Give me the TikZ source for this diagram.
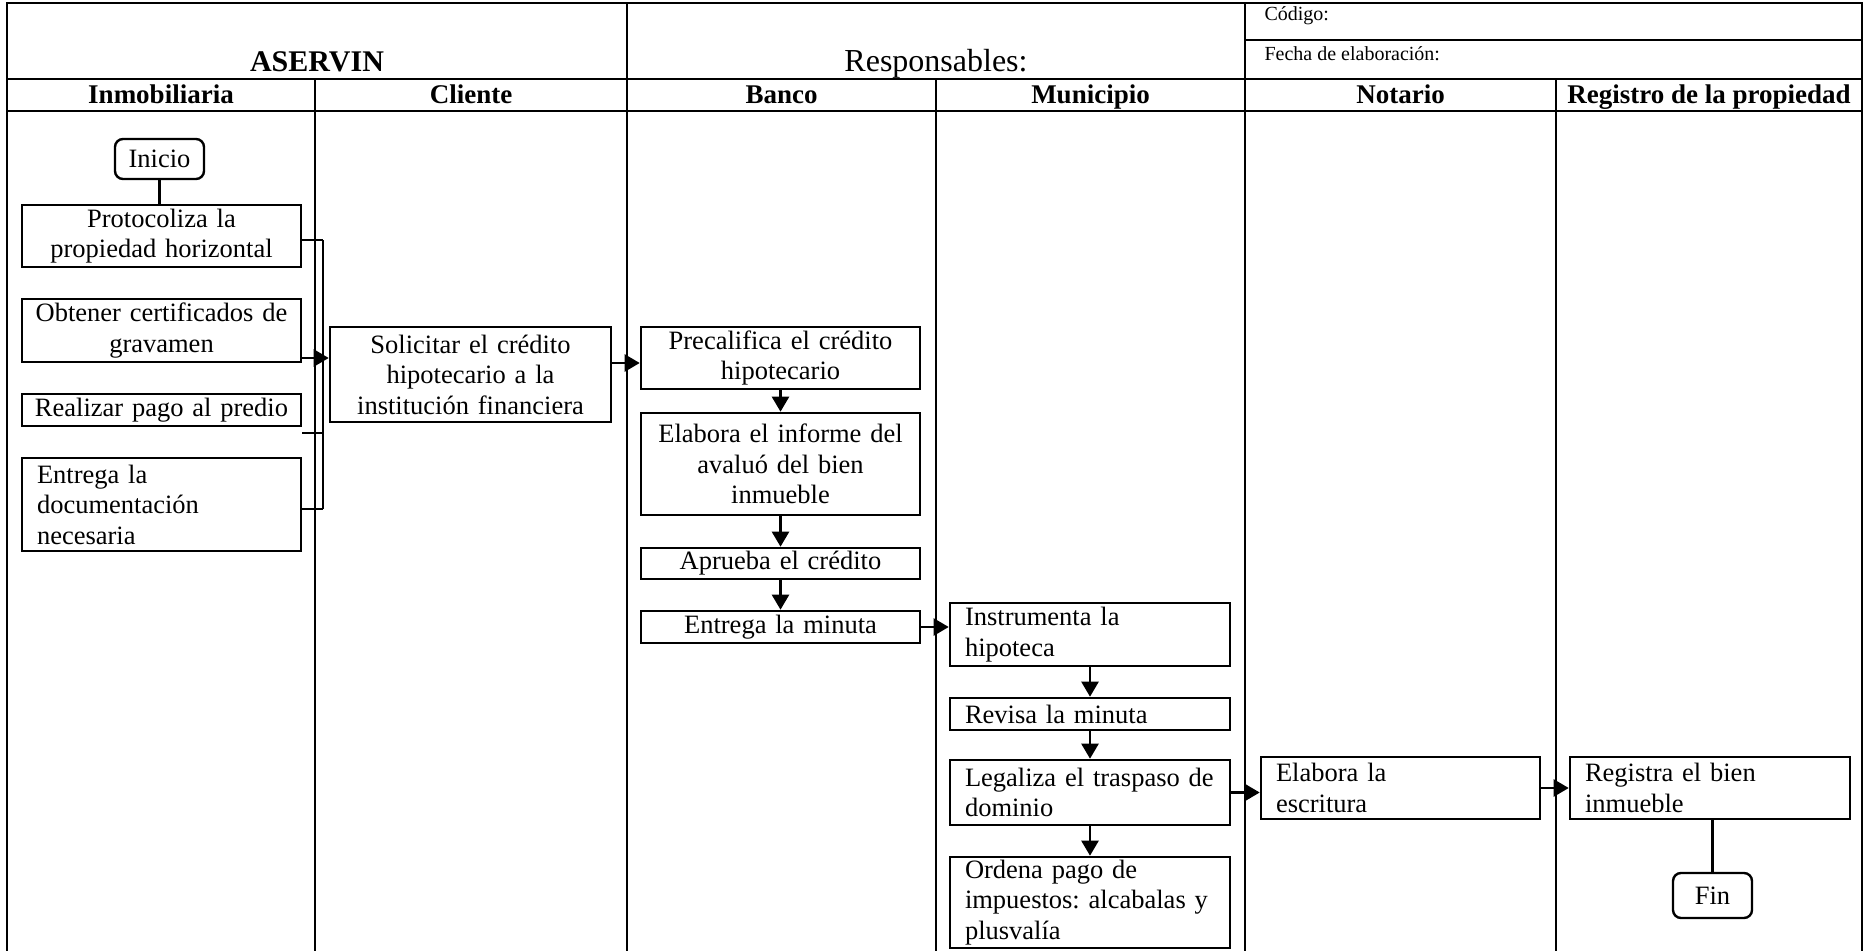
\documentclass[tikz,border=0pt]{standalone}
\usepackage{fontspec}
\setmainfont{Liberation Serif}
\usetikzlibrary{arrows.meta}
\frenchspacing

% \centerstep / \leftstep {name}{x1}{y1}{x2}{y2}{text}: a process box given by its corners
\newcommand\centerstep[6]{%
  \pgfmathsetmacro\bw{#4-#2}\pgfmathsetmacro\bh{#5-#3}%
  \pgfmathsetmacro\tw{#4-#2-8}%
  \node[cbox, minimum width=\bw pt, minimum height=\bh pt, text width=\tw pt]
    (#1) at ({(#2+#4)/2},{(#3+#5)/2}) {#6};}
\newcommand\leftstep[6]{%
  \pgfmathsetmacro\bw{#4-#2}\pgfmathsetmacro\bh{#5-#3}%
  \pgfmathsetmacro\tw{#4-#2-30}%
  \node[lbox, minimum width=\bw pt, minimum height=\bh pt, text width=\tw pt]
    (#1) at ({(#2+#4)/2},{(#3+#5)/2}) {#6};}

\begin{document}
\begin{tikzpicture}[x=1pt,y=-1pt,
  grid/.style={line width=2.4pt, line cap=rect},
  box/.style={draw, line width=2.6pt, inner ysep=0pt, font=\fontsize{26.5}{30.5}\selectfont},
  cbox/.style={box, inner xsep=4pt, align=center},
  lbox/.style={box, inner xsep=15pt, align=left},
  term/.style={draw, line width=2.4pt, rounded corners=8pt, inner sep=0pt,
    font=\fontsize{26.5}{30.5}\selectfont},
  conn/.style={line width=2.4pt},
  arr/.style={conn, -{Triangle[length=15pt,width=17pt]}},
  lanehead/.style={anchor=base, font=\fontsize{27}{30}\selectfont\bfseries},
  small/.style={anchor=base west, font=\fontsize{20}{22}\selectfont},
]
\useasboundingbox (0,0) rectangle (1865,950);

% table grid
\draw[grid] (7,3) -- (1862,3);
\draw[grid] (1245,40) -- (1862,40);
\draw[grid] (7,79) -- (1862,79);
\draw[grid] (7,111) -- (1862,111);
\draw[grid] (7,3) -- (7,950);
\draw[grid] (627,3) -- (627,950);
\draw[grid] (1245,3) -- (1245,950);
\draw[grid] (1862,3) -- (1862,950);
\draw[grid] (315,79) -- (315,950);
\draw[grid] (936,79) -- (936,950);
\draw[grid] (1556,79) -- (1556,950);

% title block
\node[anchor=base, font=\fontsize{30}{32}\selectfont\bfseries] (title) at (317,71) {ASERVIN};
\node[anchor=base, font=\fontsize{32}{34}\selectfont] (resp) at (936,71) {Responsables:};
\node[small] (cod) at (1261,21) {Código:};
\node[small] (fecha) at (1261,60) {Fecha de elaboración:};

% lane headers
\node[lanehead] (l1) at (161,103) {Inmobiliaria};
\node[lanehead] (l2) at (471,103) {Cliente};
\node[lanehead] (l3) at (781.5,103) {Banco};
\node[lanehead] (l4) at (1090.5,103) {Municipio};
\node[lanehead] (l5) at (1400.5,103) {Notario};
\node[lanehead] (l6) at (1709,103) {Registro de la propiedad};

% Inmobiliaria
\node[term, minimum width=89pt, minimum height=40pt] (ini) at (159.5,159) {Inicio};
\centerstep{prot}{22}{205}{301}{267}{Protocoliza la\\propiedad horizontal}
\centerstep{obt}{22}{299}{301}{362}{Obtener certificados de\\gravamen}
\centerstep{real}{22}{394}{301}{426}{Realizar pago al predio}
\leftstep{entd}{22}{458}{301}{551}{Entrega la\\documentación\\necesaria}

% Cliente
\centerstep{sol}{330}{327}{611}{422}{Solicitar el crédito\\hipotecario a la\\institución financiera}

% Banco
\centerstep{prec}{641}{327}{920}{389}{Precalifica el crédito\\hipotecario}
\centerstep{elab}{641}{413}{920}{515}{Elabora el informe del\\avaluó del bien\\inmueble}
\centerstep{apr}{641}{548}{920}{579}{Aprueba el crédito}
\centerstep{entm}{641}{611}{920}{643}{Entrega la minuta}

% Municipio
\leftstep{ins}{950}{603}{1230}{666}{Instrumenta la\\hipoteca}
\leftstep{rev}{950}{698}{1230}{730}{Revisa la minuta}
\leftstep{leg}{950}{760}{1230}{825}{Legaliza el traspaso de\\dominio}
\leftstep{ord}{950}{857}{1230}{948}{Ordena pago de\\impuestos: alcabalas y\\plusvalía}

% Notario and Registro
\leftstep{esc}{1261}{757}{1540}{819}{Elabora la\\escritura}
\leftstep{reg}{1570}{757}{1850}{819}{Registra el bien\\inmueble}
\node[term, minimum width=79pt, minimum height=45pt] (fin) at (1712.5,895.5) {Fin};

% connectors
\draw[conn] (ini.south) -- (ini.south |- prot.north);

\coordinate (bus1) at (323,240);
\coordinate (bus2) at (323,358);
\coordinate (bus3) at (323,433);
\coordinate (bus4) at (323,509);
\draw[conn] (bus1) -- (bus4);
\draw[conn] (prot.east |- bus1) -- (bus1);
\draw[conn] (real.east |- bus3) -- (bus3);
\draw[conn] (entd.east |- bus4) -- (bus4);
\draw[arr] (obt.east |- bus2) -- (sol.west |- bus2);

\coordinate (solrow) at (0,363);
\draw[arr] (sol.east |- solrow) -- (prec.west |- solrow);
\draw[arr] (prec) -- (elab);
\draw[arr] (elab) -- (apr);
\draw[arr] (apr) -- (entm);
\draw[arr] (entm.east) -- (entm.east -| ins.west);
\draw[arr] (ins) -- (rev);
\draw[arr] (rev) -- (leg);
\draw[arr] (leg) -- (ord);
\draw[arr] (leg.east) -- (leg.east -| esc.west);
\draw[arr] (esc.east) -- (reg.west);
\draw[conn] (fin.north |- reg.south) -- (fin.north);
\end{tikzpicture}
\end{document}
